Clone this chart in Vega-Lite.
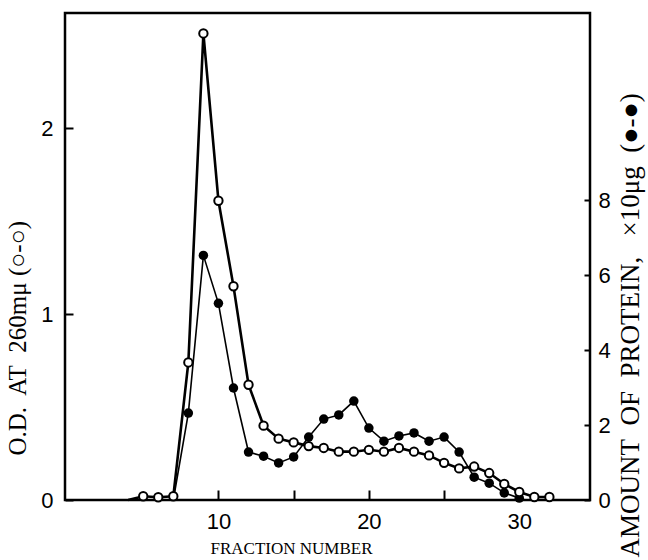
{
  "$schema": "https://vega.github.io/schema/vega-lite/v6.json",
  "width": 525,
  "height": 487,
  "autosize": {"type": "none"},
  "padding": {"left": 65, "top": 13, "right": 58, "bottom": 60},
  "config": {
    "view": {"stroke": "black", "strokeWidth": 2.5},
    "axis": {
      "grid": false,
      "domain": false,
      "labelFont": "Liberation Sans",
      "labelFontSize": 22,
      "labelColor": "black",
      "tickColor": "black",
      "tickWidth": 2,
      "titleFont": "Liberation Serif",
      "titleFontWeight": "normal",
      "titleFontSize": 18,
      "titleColor": "black"
    }
  },
  "datasets": {
    "od": [
      {"fraction": 4, "od": 0.0},
      {"fraction": 5, "od": 0.02},
      {"fraction": 6, "od": 0.015},
      {"fraction": 7, "od": 0.02},
      {"fraction": 8, "od": 0.74},
      {"fraction": 9, "od": 2.51},
      {"fraction": 10, "od": 1.61},
      {"fraction": 11, "od": 1.15},
      {"fraction": 12, "od": 0.62},
      {"fraction": 13, "od": 0.40},
      {"fraction": 14, "od": 0.33},
      {"fraction": 15, "od": 0.31},
      {"fraction": 16, "od": 0.29},
      {"fraction": 17, "od": 0.28},
      {"fraction": 18, "od": 0.26},
      {"fraction": 19, "od": 0.26},
      {"fraction": 20, "od": 0.27},
      {"fraction": 21, "od": 0.26},
      {"fraction": 22, "od": 0.28},
      {"fraction": 23, "od": 0.26},
      {"fraction": 24, "od": 0.24},
      {"fraction": 25, "od": 0.20},
      {"fraction": 26, "od": 0.17},
      {"fraction": 27, "od": 0.18},
      {"fraction": 28, "od": 0.145},
      {"fraction": 29, "od": 0.086},
      {"fraction": 30, "od": 0.043},
      {"fraction": 31, "od": 0.016},
      {"fraction": 32, "od": 0.016}
    ],
    "prot": [
      {"fraction": 7, "protein": 0.0},
      {"fraction": 8, "protein": 2.32},
      {"fraction": 9, "protein": 6.53},
      {"fraction": 10, "protein": 5.25},
      {"fraction": 11, "protein": 2.99},
      {"fraction": 12, "protein": 1.28},
      {"fraction": 13, "protein": 1.17},
      {"fraction": 14, "protein": 0.99},
      {"fraction": 15, "protein": 1.15},
      {"fraction": 16, "protein": 1.68},
      {"fraction": 17, "protein": 2.16},
      {"fraction": 18, "protein": 2.27},
      {"fraction": 19, "protein": 2.64},
      {"fraction": 20, "protein": 1.92},
      {"fraction": 21, "protein": 1.57},
      {"fraction": 22, "protein": 1.71},
      {"fraction": 23, "protein": 1.79},
      {"fraction": 24, "protein": 1.57},
      {"fraction": 25, "protein": 1.68},
      {"fraction": 26, "protein": 1.28},
      {"fraction": 27, "protein": 0.61},
      {"fraction": 28, "protein": 0.45},
      {"fraction": 29, "protein": 0.19},
      {"fraction": 30, "protein": 0.05}
    ]
  },
  "layer": [
    {
      "data": {"name": "prot"},
      "encoding": {
        "x": {
          "field": "fraction", "type": "quantitative",
          "scale": {"domain": [-0.2, 34.7], "nice": false},
          "axis": {
            "title": "FRACTION NUMBER",
            "values": [10, 15, 20, 25, 30],
            "format": "d",
            "labelExpr": "datum.value % 10 === 0 ? datum.label : ''",
            "tickSize": -10,
            "labelPadding": 21,
            "titleX": 226,
            "titleAlign": "center",
            "titleY": 53,
            "titleBaseline": "alphabetic",
            "titleFontSize": 17
          }
        },
        "y": {
          "field": "protein", "type": "quantitative",
          "scale": {"domain": [0, 13], "nice": false},
          "axis": {
            "orient": "right",
            "title": "AMOUNT\u00a0 OF\u00a0 PROTEIN,\u00a0\u00a0 ×10μg\u00a0 (●-●)",
            "values": [0, 2, 4, 6, 8],
            "format": "d",
            "tickSize": -6,
            "labelPadding": 14,
            "titleAngle": -90,
            "titleX": 40,
            "titleY": 544,
            "titleBaseline": "middle",
            "titleAlign": "left",
            "titleFontSize": 27
          }
        }
      },
      "layer": [
        {"mark": {"type": "line", "color": "black", "strokeWidth": 1.6}},
        {"transform": [{"filter": "datum.fraction >= 8"}], "mark": {"type": "point", "filled": true, "color": "black", "size": 90, "opacity": 1}}
      ]
    },
    {
      "data": {"name": "od"},
      "encoding": {
        "x": {"field": "fraction", "type": "quantitative", "scale": {"domain": [-0.2, 34.7], "nice": false}},
        "y": {
          "field": "od", "type": "quantitative",
          "scale": {"domain": [0, 2.62], "nice": false},
          "axis": {
            "orient": "left",
            "title": "O.D.\u00a0 AT\u00a0 260mμ\u00a0(○-○)",
            "values": [0, 0.25, 0.5, 0.75, 1, 1.25, 1.5, 1.75, 2, 2.25, 2.5],
            "format": "d",
            "labelExpr": "datum.value % 1 === 0 ? datum.label : ''",
            "tickSize": -8,
            "labelPadding": 20,
            "titleAngle": -90,
            "titleX": -48,
            "titleY": 442,
            "titleBaseline": "middle",
            "titleAlign": "left",
            "titleFontSize": 25
          }
        }
      },
      "layer": [
        {"mark": {"type": "line", "color": "black", "strokeWidth": 2.6}},
        {"transform": [{"filter": "datum.fraction >= 5"}], "mark": {"type": "point", "filled": true, "fill": "white", "stroke": "black", "strokeWidth": 2, "size": 70, "opacity": 1}}
      ]
    }
  ],
  "resolve": {"scale": {"y": "independent"}}
}
